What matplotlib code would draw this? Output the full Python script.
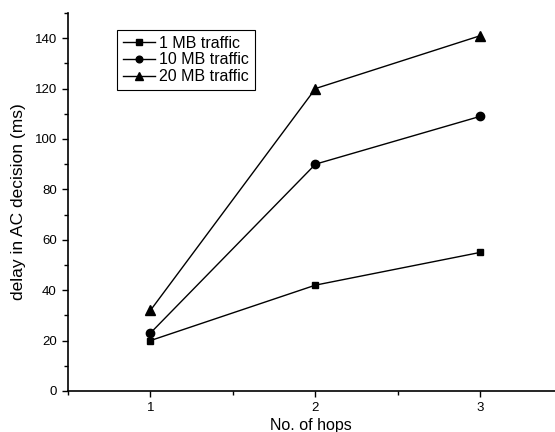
import matplotlib
matplotlib.use('Agg')
from matplotlib import pyplot as plt
from matplotlib.ticker import MultipleLocator

plt.rcParams['font.family'] = ['Liberation Sans', 'DejaVu Sans']
plt.rcParams['font.size'] = 9.5

hops = [1, 2, 3]
traffic_1mb = [20, 42, 55]
traffic_10mb = [23, 90, 109]
traffic_20mb = [32, 120, 141]

fig = plt.figure(figsize=(5.55, 4.32), dpi=100)
ax = fig.add_axes([0.1225, 0.095, 0.877, 0.875])

ax.plot(hops, traffic_1mb, color='black', lw=1, marker='s', ms=5, label='1 MB traffic')
ax.plot(hops, traffic_10mb, color='black', lw=1, marker='o', ms=6, label='10 MB traffic')
ax.plot(hops, traffic_20mb, color='black', lw=1, marker='^', ms=6.5, label='20 MB traffic')

ax.set_xlim(0.5, 3.45)
ax.set_ylim(0, 150)
ax.xaxis.set_major_locator(MultipleLocator(1))
ax.xaxis.set_minor_locator(MultipleLocator(0.5))
ax.yaxis.set_major_locator(MultipleLocator(20))
ax.yaxis.set_minor_locator(MultipleLocator(10))
ax.tick_params(which='both', direction='out', width=1)
ax.tick_params(which='major', length=4, pad=4)
ax.tick_params(which='minor', length=3)

ax.spines['top'].set_visible(False)
ax.spines['right'].set_visible(False)
ax.spines['left'].set_linewidth(1.2)
ax.spines['bottom'].set_linewidth(1.2)

ax.set_xlabel('No. of hops', fontsize=11.5, labelpad=3)
ax.set_ylabel('delay in AC decision (ms)', fontsize=12.5, labelpad=6)

leg = ax.legend(loc='upper left', bbox_to_anchor=(0.101, 0.955), fancybox=False,
                edgecolor='black', framealpha=1, borderaxespad=0,
                handlelength=2.0, handletextpad=0.3, labelspacing=0.12,
                borderpad=0.35, fontsize=11.5, markerscale=0.8)
leg.get_frame().set_linewidth(0.8)

fig.savefig('out.png', dpi=100)
